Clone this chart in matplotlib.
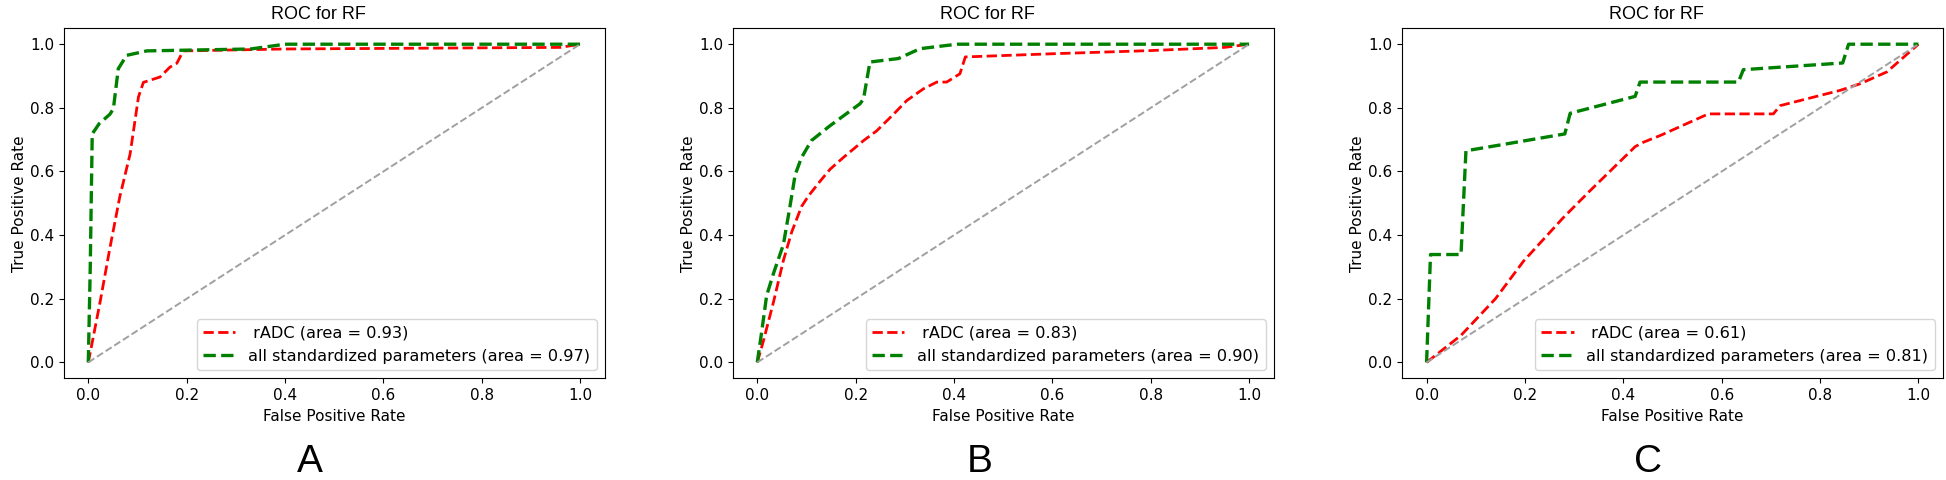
import matplotlib
matplotlib.use("Agg")
import matplotlib.pyplot as plt

# ---- data ----
panel_letters = ["A", "B", "C"]
titles = ["ROC for RF", "ROC for RF", "ROC for RF"]
radc_auc = ["0.93", "0.83", "0.61"]
all_auc = ["0.97", "0.90", "0.81"]

# Panel A
a_radc_fpr = [0.0, 0.007, 0.024, 0.044, 0.064, 0.085, 0.102, 0.112, 0.146, 0.166, 0.18, 0.193, 0.4, 0.96, 1.0]
a_radc_tpr = [0.0, 0.055, 0.19, 0.36, 0.52, 0.655, 0.834, 0.88, 0.897, 0.928, 0.94, 0.979, 0.985, 0.99, 1.0]
a_all_fpr = [0.0, 0.004, 0.008, 0.022, 0.044, 0.051, 0.061, 0.078, 0.119, 0.33, 0.4, 1.0]
a_all_tpr = [0.0, 0.3, 0.718, 0.75, 0.78, 0.797, 0.923, 0.965, 0.979, 0.985, 1.0, 1.0]

# Panel B
b_radc_fpr = [0.0, 0.012, 0.033, 0.053, 0.07, 0.09, 0.104, 0.128, 0.148, 0.175, 0.216, 0.243, 0.277,
              0.304, 0.338, 0.365, 0.385, 0.412, 0.423, 0.6, 0.8, 0.95, 1.0]
b_radc_tpr = [0.0, 0.065, 0.19, 0.32, 0.41, 0.49, 0.523, 0.57, 0.607, 0.644, 0.697, 0.728, 0.78,
              0.823, 0.86, 0.881, 0.881, 0.907, 0.96, 0.97, 0.98, 0.99, 1.0]
b_all_fpr = [0.0, 0.009, 0.019, 0.033, 0.053, 0.066, 0.077, 0.09, 0.11, 0.148, 0.209, 0.216, 0.229,
             0.287, 0.331, 0.406, 1.0]
b_all_tpr = [0.0, 0.097, 0.21, 0.28, 0.37, 0.486, 0.59, 0.644, 0.697, 0.744, 0.813, 0.828, 0.944,
             0.955, 0.986, 1.0, 1.0]

# Panel C
c_radc_fpr = [0.0, 0.07, 0.14, 0.197, 0.278, 0.332, 0.424, 0.441, 0.475, 0.573, 0.705, 0.719,
              0.841, 0.882, 0.936, 1.0]
c_radc_tpr = [0.0, 0.085, 0.2, 0.318, 0.455, 0.539, 0.678, 0.692, 0.713, 0.781, 0.781, 0.807,
              0.855, 0.876, 0.913, 1.0]
c_all_fpr = [0.0, 0.008, 0.07, 0.08, 0.281, 0.292, 0.424, 0.434, 0.634, 0.644, 0.846, 0.858, 1.0]
c_all_tpr = [0.0, 0.339, 0.339, 0.665, 0.718, 0.783, 0.836, 0.881, 0.881, 0.92, 0.941, 1.0, 1.0]

chance = [0.0, 1.0]

panels = [
    (a_radc_fpr, a_radc_tpr, a_all_fpr, a_all_tpr),
    (b_radc_fpr, b_radc_tpr, b_all_fpr, b_all_tpr),
    (c_radc_fpr, c_radc_tpr, c_all_fpr, c_all_tpr),
]

plt.rcParams['font.family'] = ['DejaVu Sans']

fig = plt.figure(figsize=(19.46, 4.8), dpi=100)
W, H = 1946.0, 480.0
lefts = [63.7, 732.7, 1402.0]
ax_w, ax_top, ax_bot = 541.0, 28.3, 378.3

for i, (rf, rt, af, at) in enumerate(panels):
    ax = fig.add_axes([lefts[i] / W, 1 - ax_bot / H, ax_w / W, (ax_bot - ax_top) / H])
    ax.plot(rf, rt, color='red', lw=2, ls='--', label=' rADC (area = %s)' % radc_auc[i])
    ax.plot(af, at, color='green', lw=2.4, ls='--',
            label='all standardized parameters (area = %s)' % all_auc[i])
    ax.plot(chance, chance, color='#a0a0a0', lw=1.4, ls='--')
    ax.set_xlim(-0.05, 1.05)
    ax.set_ylim(-0.05, 1.05)
    ax.set_xticks([0.0, 0.2, 0.4, 0.6, 0.8, 1.0])
    ax.set_yticks([0.0, 0.2, 0.4, 0.6, 0.8, 1.0])
    ax.tick_params(labelsize=11)
    ax.set_xlabel('False Positive Rate', fontsize=11)
    ax.set_ylabel('True Positive Rate', fontsize=11, labelpad=2)
    ax.set_title(titles[i], fontsize=13, family='Liberation Sans', x=0.471, pad=7)
    ax.legend(loc='lower right', fontsize=11.6)
    cx = (lefts[i] + ax_w / 2 - 24) / W
    fig.text(cx, 0.5 / H, panel_letters[i], ha='center', va='bottom',
             fontsize=28, family='Liberation Sans')

fig.savefig('out.png', dpi=100)
